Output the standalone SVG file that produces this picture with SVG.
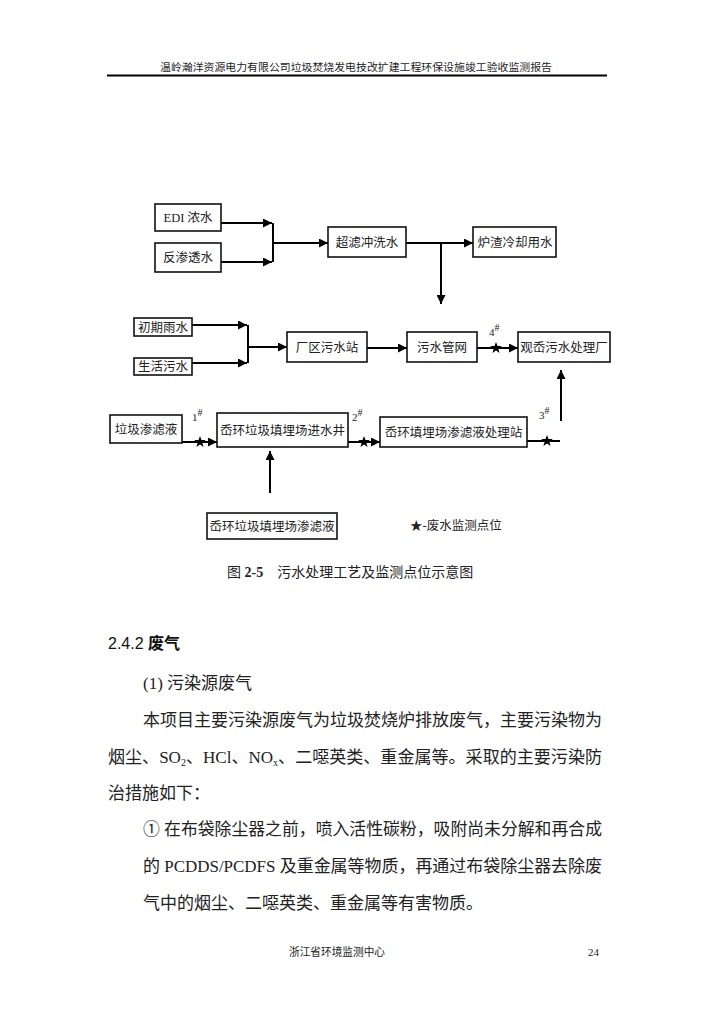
<svg xmlns="http://www.w3.org/2000/svg" width="720" height="1018" viewBox="0 0 720 1018">
<style>
.t{font-family:"Liberation Serif","Noto Sans CJK SC",serif;fill:#222}
.b{font-size:12.5px;text-anchor:middle}
.box{fill:#fff;stroke:#111;stroke-width:1.6}
.ln{fill:none;stroke:#000;stroke-width:2}
.sup{font-size:10px}
.body{font-size:17px}
</style>
<defs>
<marker id="ah" viewBox="0 0 10 10" refX="10" refY="5" markerWidth="9" markerHeight="9" markerUnits="userSpaceOnUse" orient="auto">
<path d="M0,0 L10,5 L0,10 z" fill="#000"/>
</marker>
<path id="star" d="M0,-6 L1.5,-2 L5.8,-1.9 L2.4,0.9 L3.6,5 L0,2.6 L-3.6,5 L-2.4,0.9 L-5.8,-1.9 L-1.5,-2 z" fill="#000"/>
</defs>
<rect width="720" height="1018" fill="#fff"/>
<text class="t" x="356" y="71" font-size="10.5" text-anchor="middle" textLength="392" lengthAdjust="spacingAndGlyphs">温岭瀚洋资源电力有限公司垃圾焚烧发电技改扩建工程环保设施竣工验收监测报告</text>
<line x1="107" y1="75.5" x2="607" y2="75.5" stroke="#000" stroke-width="2"/>

<g id="connectors">
<path class="ln" d="M221,223 H272" marker-end="url(#ah)"/>
<path class="ln" d="M221,262 H272" marker-end="url(#ah)"/>
<path class="ln" d="M273,223 V262"/>
<path class="ln" d="M273,243 H328" marker-end="url(#ah)"/>
<path class="ln" d="M406,243 H473" marker-end="url(#ah)"/>
<path class="ln" d="M441,243 V304" marker-end="url(#ah)"/>
<path class="ln" d="M192,325 H247" marker-end="url(#ah)"/>
<path class="ln" d="M192,363 H247" marker-end="url(#ah)"/>
<path class="ln" d="M248,325 V363"/>
<path class="ln" d="M248,347 H287" marker-end="url(#ah)"/>
<path class="ln" d="M367,348 H407" marker-end="url(#ah)"/>
<path class="ln" d="M477,348 H518" marker-end="url(#ah)"/>
<path class="ln" d="M561,421 V370" marker-end="url(#ah)"/>
<path class="ln" d="M182,442 H217" marker-end="url(#ah)"/>
<path class="ln" d="M348,442 H380" marker-end="url(#ah)"/>
<path class="ln" d="M527,441 H560"/>
<path class="ln" d="M270,493 V451" marker-end="url(#ah)"/>
<use href="#star" x="496" y="348"/>
<use href="#star" x="200" y="442"/>
<use href="#star" x="364" y="442"/>
<use href="#star" x="547" y="441"/>
<text class="t" x="489" y="336" font-size="11">4<tspan class="sup" dy="-5">#</tspan></text>
<text class="t" x="192" y="421" font-size="11">1<tspan class="sup" dy="-5">#</tspan></text>
<text class="t" x="352" y="421" font-size="11">2<tspan class="sup" dy="-5">#</tspan></text>
<text class="t" x="539" y="419" font-size="11">3<tspan class="sup" dy="-5">#</tspan></text>
</g>

<g id="n1"><rect class="box" x="155" y="204" width="66" height="27"/><text class="t b" x="188" y="222">EDI 浓水</text></g>
<g id="n2"><rect class="box" x="155" y="243" width="66" height="29"/><text class="t b" x="188" y="262">反渗透水</text></g>
<g id="n3"><rect class="box" x="328" y="227" width="78" height="30"/><text class="t b" x="367" y="247">超滤冲洗水</text></g>
<g id="n4"><rect class="box" x="473" y="227" width="83" height="30"/><text class="t b" x="515" y="247">炉渣冷却用水</text></g>
<g id="n5"><rect class="box" x="134" y="318" width="58" height="18"/><text class="t b" x="163" y="332">初期雨水</text></g>
<g id="n6"><rect class="box" x="134" y="358" width="58" height="17"/><text class="t b" x="163" y="371">生活污水</text></g>
<g id="n7"><rect class="box" x="287" y="332" width="80" height="30"/><text class="t b" x="327" y="352">厂区污水站</text></g>
<g id="n8"><rect class="box" x="407" y="332" width="70" height="30"/><text class="t b" x="442" y="352">污水管网</text></g>
<g id="n9"><rect class="box" x="518" y="332" width="92" height="30"/><text class="t b" x="564" y="352">观岙污水处理厂</text></g>
<g id="n10"><rect class="box" x="110" y="415" width="72" height="28"/><text class="t b" x="146" y="434">垃圾渗滤液</text></g>
<g id="n11"><rect class="box" x="217" y="413" width="131" height="34"/><text class="t b" x="282.5" y="435">岙环垃圾填埋场进水井</text></g>
<g id="n12"><rect class="box" x="380" y="417" width="147" height="30"/><text class="t b" x="453.5" y="437">岙环填埋场渗滤液处理站</text></g>
<g id="n13"><rect class="box" x="207" y="513" width="130" height="26" stroke-width="2.4"/><text class="t b" x="272" y="531">岙环垃圾填埋场渗滤液</text></g>

<text class="t" x="410" y="530" font-size="12.5">★-废水监测点位</text>
<text class="t" x="227" y="577" font-size="14">图 <tspan font-weight="bold">2-5</tspan>　污水处理工艺及监测点位示意图</text>

<text x="108" y="649" font-family="Liberation Sans,'Noto Sans CJK SC',sans-serif" font-size="16" fill="#111">2.4.2 <tspan font-weight="bold">废气</tspan></text>
<text class="t body" x="143" y="689">(1) 污染源废气</text>
<text class="t body" x="143" y="726" textLength="459" lengthAdjust="spacingAndGlyphs">本项目主要污染源废气为垃圾焚烧炉排放废气，主要污染物为</text>
<text class="t body" x="108" y="763" textLength="494" lengthAdjust="spacingAndGlyphs">烟尘、SO<tspan font-size="10" dy="3">2</tspan><tspan dy="-3">、HCl、NO</tspan><tspan font-size="10" dy="3">x</tspan><tspan dy="-3">、二噁英类、重金属等。采取的主要污染防</tspan></text>
<text class="t body" x="108" y="799">治措施如下：</text>
<text class="t body" x="143" y="835" textLength="459" lengthAdjust="spacingAndGlyphs">① 在布袋除尘器之前，喷入活性碳粉，吸附尚未分解和再合成</text>
<text class="t body" x="143" y="872" textLength="459" lengthAdjust="spacingAndGlyphs">的 PCDDS/PCDFS 及重金属等物质，再通过布袋除尘器去除废</text>
<text class="t body" x="143" y="909">气中的烟尘、二噁英类、重金属等有害物质。</text>

<text class="t" x="289" y="956" font-size="11" textLength="96" lengthAdjust="spacingAndGlyphs">浙江省环境监测中心</text>
<text class="t" x="588" y="956" font-size="11">24</text>
</svg>
